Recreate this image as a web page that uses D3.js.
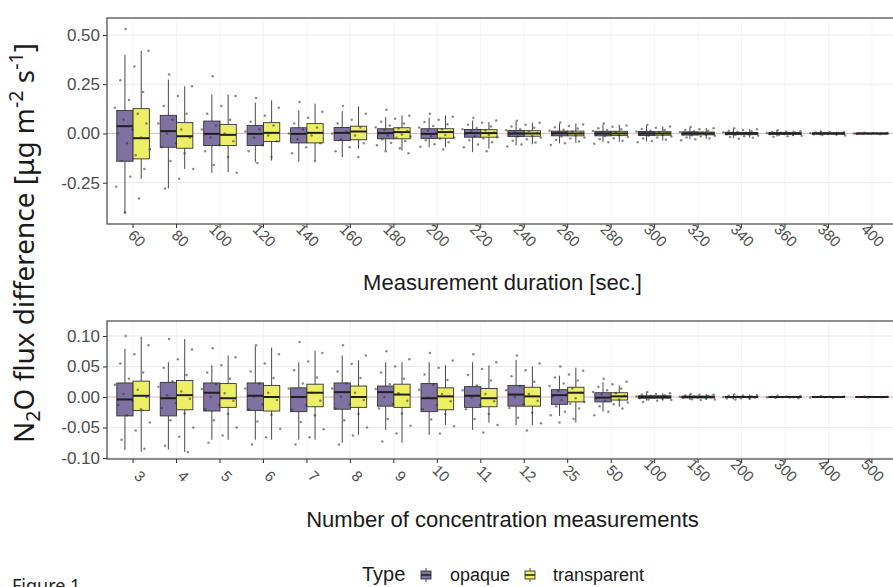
<!DOCTYPE html>
<html>
<head>
<meta charset="utf-8">
<script src="https://cdn.jsdelivr.net/npm/d3@7"></script>
<style>
  body { margin: 0; background: #fff; }
  svg { display: block; font-family: "Liberation Sans", Arial, sans-serif; }
</style>
</head>
<body>
<svg id="chart" width="893" height="587"></svg>
<script>
// ---- data ----
const TYPES = ["opaque", "transparent"];

const DURATIONS = ["60", "80", "100", "120", "140", "160", "180", "200", "220",
  "240", "260", "280", "300", "320", "340", "360", "380", "400"];
const COUNTS = ["3", "4", "5", "6", "7", "8", "9", "10", "11", "12", "25", "50",
  "100", "150", "200", "300", "400", "500"];

const TOP_TICKS = [-0.25, 0, 0.25, 0.5];
const BOTTOM_TICKS = [-0.1, -0.05, 0, 0.05, 0.1];

// [lower whisker, q1, median, q3, upper whisker]
const DUR_OPAQUE = [
  [-0.41, -0.141, 0.037, 0.117, 0.40], [-0.279, -0.07, 0.012, 0.092, 0.274],
  [-0.2, -0.061, -0.002, 0.063, 0.197], [-0.146, -0.061, -0.002, 0.041, 0.157],
  [-0.143, -0.048, -0.002, 0.029, 0.117], [-0.12, -0.036, 0.003, 0.03, 0.114],
  [-0.087, -0.027, 0.002, 0.024, 0.083], [-0.07, -0.025, -0.002, 0.024, 0.08],
  [-0.095, -0.019, 0.002, 0.02, 0.066], [-0.06, -0.015, 0, 0.015, 0.06],
  [-0.05, -0.012, 0.001, 0.012, 0.05], [-0.045, -0.012, 0, 0.011, 0.045],
  [-0.04, -0.01, 0, 0.01, 0.038], [-0.03, -0.008, 0, 0.008, 0.03],
  [-0.025, -0.006, 0, 0.006, 0.024], [-0.015, -0.004, 0, 0.004, 0.015],
  [-0.01, -0.003, 0, 0.003, 0.01], [-0.004, -0.001, 0, 0.001, 0.004]
];
const DUR_TRANSPARENT = [
  [-0.23, -0.129, -0.024, 0.126, 0.42], [-0.18, -0.075, -0.014, 0.055, 0.24],
  [-0.197, -0.061, -0.007, 0.046, 0.197], [-0.138, -0.041, 0.003, 0.055, 0.168],
  [-0.138, -0.048, 0.003, 0.05, 0.152], [-0.077, -0.032, 0.01, 0.037, 0.138],
  [-0.087, -0.027, 0.007, 0.029, 0.092], [-0.07, -0.024, 0.007, 0.024, 0.092],
  [-0.077, -0.019, 0.002, 0.019, 0.058], [-0.055, -0.014, 0, 0.014, 0.055],
  [-0.048, -0.012, 0, 0.012, 0.05], [-0.042, -0.011, 0, 0.011, 0.044],
  [-0.036, -0.009, 0, 0.009, 0.036], [-0.028, -0.007, 0, 0.007, 0.028],
  [-0.022, -0.006, 0, 0.005, 0.022], [-0.014, -0.004, 0, 0.004, 0.014],
  [-0.009, -0.003, 0, 0.003, 0.009], [-0.004, -0.001, 0, 0.001, 0.004]
];
const CNT_OPAQUE = [
  [-0.087, -0.031, -0.004, 0.023, 0.079], [-0.086, -0.031, -0.002, 0.024, 0.057],
  [-0.07, -0.023, 0.007, 0.023, 0.052], [-0.07, -0.022, 0.002, 0.023, 0.083],
  [-0.07, -0.024, 0, 0.015, 0.057], [-0.075, -0.02, 0.008, 0.023, 0.068],
  [-0.054, -0.015, 0.008, 0.018, 0.057], [-0.062, -0.024, -0.002, 0.022, 0.057],
  [-0.054, -0.017, 0.002, 0.017, 0.057], [-0.046, -0.015, 0.004, 0.019, 0.061],
  [-0.031, -0.012, 0.003, 0.012, 0.035], [-0.024, -0.008, -0.001, 0.007, 0.024],
  [-0.006, -0.002, 0, 0.002, 0.006], [-0.005, -0.0015, 0, 0.0015, 0.005],
  [-0.004, -0.001, 0, 0.001, 0.004], [-0.002, -0.0007, 0, 0.0007, 0.002],
  [-0.0015, -0.0005, 0, 0.0005, 0.0015], [-0.001, -0.0004, 0, 0.0004, 0.001]
];
const CNT_TRANSPARENT = [
  [-0.09, -0.022, 0.002, 0.026, 0.099], [-0.09, -0.021, 0.003, 0.027, 0.095],
  [-0.07, -0.017, -0.002, 0.022, 0.068], [-0.07, -0.023, 0, 0.019, 0.081],
  [-0.07, -0.016, 0.007, 0.021, 0.076], [-0.062, -0.017, 0, 0.018, 0.06],
  [-0.075, -0.017, 0.004, 0.021, 0.057], [-0.046, -0.021, 0.001, 0.015, 0.052],
  [-0.042, -0.016, -0.002, 0.014, 0.052], [-0.046, -0.015, 0.001, 0.016, 0.05],
  [-0.042, -0.008, 0.007, 0.016, 0.048], [-0.016, -0.005, 0.001, 0.007, 0.019],
  [-0.006, -0.002, 0, 0.002, 0.006], [-0.005, -0.0015, 0, 0.0015, 0.005],
  [-0.004, -0.001, 0, 0.001, 0.004], [-0.002, -0.0007, 0, 0.0007, 0.002],
  [-0.0015, -0.0005, 0, 0.0005, 0.0015], [-0.001, -0.0004, 0, 0.0004, 0.001]
];

// individual flux differences (grey jittered dots), one list per category
const DUR_POINTS = [
  [0.53, 0.42, 0.34, 0.27, 0.21, 0.17, 0.13, 0.1, 0.07, 0.05, 0.02, 0.0, -0.02, -0.05, -0.08, -0.11, -0.14, -0.18, -0.22, -0.27, -0.33, -0.4],
  [0.3, 0.24, 0.19, 0.14, 0.1, 0.07, 0.05, 0.02, 0.0, -0.02, -0.05, -0.07, -0.1, -0.14, -0.18, -0.23, -0.28],
  [0.29, 0.19, 0.14, 0.1, 0.07, 0.04, 0.02, 0.0, -0.02, -0.04, -0.06, -0.09, -0.12, -0.16, -0.2],
  [0.18, 0.13, 0.09, 0.06, 0.04, 0.02, 0.01, -0.01, -0.02, -0.04, -0.06, -0.09, -0.12, -0.15],
  [0.16, 0.11, 0.08, 0.05, 0.03, 0.02, 0.0, -0.01, -0.03, -0.05, -0.07, -0.1, -0.14],
  [0.14, 0.1, 0.07, 0.05, 0.03, 0.01, 0.0, -0.01, -0.03, -0.05, -0.07, -0.09, -0.12],
  [0.12, 0.09, 0.075, 0.06, 0.05, 0.04, 0.032, 0.025, 0.018, 0.012, 0.006, 0.0, -0.005, -0.01, -0.016, -0.022, -0.03, -0.038, -0.048, -0.06, -0.075, -0.09, -0.1],
  [0.1, 0.085, 0.07, 0.058, 0.047, 0.038, 0.03, 0.022, 0.015, 0.009, 0.003, -0.002, -0.008, -0.014, -0.02, -0.027, -0.035, -0.044, -0.055, -0.068, -0.082],
  [0.08, 0.066, 0.054, 0.044, 0.035, 0.028, 0.021, 0.015, 0.01, 0.005, 0.001, -0.003, -0.008, -0.013, -0.019, -0.026, -0.034, -0.044, -0.056, -0.07, -0.09],
  [0.065, 0.054, 0.044, 0.036, 0.029, 0.022, 0.016, 0.011, 0.006, 0.002, -0.002, -0.006, -0.011, -0.016, -0.022, -0.029, -0.037, -0.046, -0.056, -0.066],
  [0.056, 0.046, 0.038, 0.031, 0.025, 0.019, 0.014, 0.009, 0.005, 0.001, -0.002, -0.006, -0.01, -0.015, -0.02, -0.026, -0.033, -0.041, -0.05, -0.058],
  [0.05, 0.041, 0.034, 0.027, 0.022, 0.017, 0.012, 0.008, 0.004, 0.001, -0.002, -0.005, -0.009, -0.013, -0.018, -0.024, -0.03, -0.037, -0.045, -0.052],
  [0.043, 0.035, 0.029, 0.023, 0.018, 0.014, 0.01, 0.007, 0.004, 0.001, -0.002, -0.005, -0.008, -0.012, -0.016, -0.021, -0.026, -0.032, -0.038, -0.044],
  [0.033, 0.027, 0.022, 0.018, 0.014, 0.011, 0.008, 0.005, 0.003, 0.001, -0.001, -0.004, -0.006, -0.009, -0.012, -0.016, -0.02, -0.025, -0.03, -0.034],
  [0.027, 0.022, 0.018, 0.014, 0.011, 0.008, 0.006, 0.004, 0.002, 0.0, -0.002, -0.004, -0.006, -0.008, -0.011, -0.014, -0.018, -0.022, -0.027],
  [0.016, 0.013, 0.01, 0.008, 0.006, 0.004, 0.003, 0.001, 0.0, -0.001, -0.003, -0.004, -0.006, -0.008, -0.011, -0.014, -0.017],
  [0.01, 0.008, 0.006, 0.005, 0.003, 0.002, 0.001, 0.0, -0.001, -0.002, -0.003, -0.005, -0.006, -0.008, -0.01],
  [0.004, 0.003, 0.002, 0.001, 0.0, 0.0, 0.0, 0.0, -0.001, -0.001, -0.002, -0.003, -0.004]
];
const CNT_POINTS = [
  [0.1, 0.085, 0.07, 0.055, 0.04, 0.03, 0.02, 0.012, 0.005, 0.0, -0.006, -0.013, -0.02, -0.03, -0.042, -0.055, -0.07, -0.085],
  [0.095, 0.078, 0.062, 0.048, 0.036, 0.026, 0.017, 0.009, 0.003, -0.003, -0.01, -0.018, -0.027, -0.038, -0.05, -0.065, -0.08, -0.09],
  [0.08, 0.065, 0.052, 0.04, 0.03, 0.021, 0.013, 0.006, 0.0, -0.006, -0.013, -0.02, -0.028, -0.038, -0.05, -0.063, -0.075],
  [0.085, 0.07, 0.055, 0.042, 0.031, 0.022, 0.014, 0.007, 0.001, -0.005, -0.012, -0.02, -0.029, -0.04, -0.052, -0.066, -0.078],
  [0.09, 0.072, 0.058, 0.044, 0.032, 0.022, 0.014, 0.007, 0.0, -0.006, -0.013, -0.021, -0.03, -0.041, -0.053, -0.066, -0.078],
  [0.085, 0.068, 0.054, 0.042, 0.031, 0.022, 0.014, 0.007, 0.001, -0.005, -0.012, -0.019, -0.028, -0.038, -0.05, -0.063, -0.078],
  [0.075, 0.062, 0.05, 0.04, 0.03, 0.021, 0.013, 0.006, 0.0, -0.006, -0.012, -0.019, -0.027, -0.036, -0.047, -0.06, -0.073],
  [0.072, 0.06, 0.048, 0.037, 0.028, 0.02, 0.012, 0.005, -0.001, -0.007, -0.013, -0.02, -0.028, -0.037, -0.048, -0.06],
  [0.07, 0.057, 0.046, 0.036, 0.027, 0.019, 0.011, 0.005, -0.001, -0.007, -0.013, -0.02, -0.028, -0.036, -0.046, -0.058],
  [0.068, 0.055, 0.044, 0.034, 0.025, 0.018, 0.011, 0.005, 0.0, -0.006, -0.012, -0.018, -0.026, -0.034, -0.043, -0.055],
  [0.05, 0.043, 0.037, 0.032, 0.027, 0.022, 0.018, 0.014, 0.01, 0.007, 0.004, 0.001, -0.002, -0.005, -0.008, -0.011, -0.015, -0.019, -0.024, -0.03, -0.036, -0.042],
  [0.03, 0.025, 0.021, 0.017, 0.014, 0.011, 0.008, 0.006, 0.004, 0.002, 0.0, -0.002, -0.004, -0.006, -0.009, -0.012, -0.015, -0.019, -0.024, -0.03],
  [0.008, 0.006, 0.005, 0.004, 0.003, 0.002, 0.001, 0.0005, 0.0, -0.0005, -0.001, -0.002, -0.003, -0.004, -0.005, -0.006, -0.008],
  [0.005, 0.004, 0.0035, 0.0025, 0.0015, 0.001, 0.0005, 0.0, 0.0, -0.0005, -0.001, -0.0015, -0.0025, -0.0035, -0.004, -0.005],
  [0.004, 0.003, 0.0025, 0.002, 0.001, 0.0005, 0.0, 0.0, -0.0005, -0.001, -0.002, -0.0025, -0.003, -0.004],
  [0.002, 0.0015, 0.001, 0.0005, 0.0, 0.0, -0.0005, -0.001, -0.0015, -0.002],
  [0.0015, 0.001, 0.0005, 0.0, 0.0, -0.0005, -0.001, -0.0015],
  [0.001, 0.0005, 0.0, 0.0, -0.0005, -0.001]
];

// ---- layout ----
const PANEL_LEFT = 107;
const PANEL_RIGHT = 898; // panel runs off the right edge, as in the figure
const TYPE_FILL = { opaque: "#7f72a2", transparent: "#ecef66" };
const INK = "#333333";
const TICK_TEXT = "#4d4d4d";

const svg = d3.select("#chart");

function drawPanel(p) {
  const x = d3.scaleBand()
    .domain(p.cats)
    .range([PANEL_LEFT, PANEL_RIGHT])
    .paddingInner(0)
    .paddingOuter(0.1);
  const dodge = d3.scaleBand()
    .domain(TYPES)
    .range([-0.375 * x.step(), 0.375 * x.step()]);
  const y = d3.scaleLinear().domain(p.domain).range(p.range);
  const mid = (c) => x(c) + x.bandwidth() / 2;
  const bw = dodge.bandwidth();

  svg.append("clipPath").attr("id", "clip-" + p.name)
    .append("rect")
    .attr("x", PANEL_LEFT).attr("y", p.top)
    .attr("width", PANEL_RIGHT - PANEL_LEFT).attr("height", p.bottom - p.top);

  const g = svg.append("g").attr("clip-path", "url(#clip-" + p.name + ")");

  // grid
  g.selectAll(".hgrid").data(p.ticks).join("line")
    .attr("x1", PANEL_LEFT).attr("x2", PANEL_RIGHT)
    .attr("y1", (d) => y(d)).attr("y2", (d) => y(d))
    .attr("stroke", "#e6e6e6").attr("stroke-width", 0.8);
  g.selectAll(".vgrid").data(p.cats).join("line")
    .attr("x1", (d) => mid(d)).attr("x2", (d) => mid(d))
    .attr("y1", p.top).attr("y2", p.bottom)
    .attr("stroke", "#f0f0f0").attr("stroke-width", 0.8);
  // zero reference line
  g.append("line")
    .attr("x1", PANEL_LEFT).attr("x2", PANEL_RIGHT)
    .attr("y1", y(0)).attr("y2", y(0))
    .attr("stroke", "#f2a8a8").attr("stroke-width", 0.8);

  // boxes
  const boxes = p.cats.flatMap((c, i) =>
    TYPES.map((t) => ({ cat: c, type: t, s: p.stats[t][i] })));
  const bg = g.selectAll(".box").data(boxes).join("g")
    .attr("class", "box")
    .attr("transform", (d) =>
      "translate(" + (mid(d.cat) + dodge(d.type) + bw / 2) + ",0)");
  bg.append("line")
    .attr("y1", (d) => y(d.s[0])).attr("y2", (d) => y(d.s[4]))
    .attr("stroke", INK).attr("stroke-width", 0.9);
  bg.append("rect")
    .attr("x", -bw / 2).attr("width", bw)
    .attr("y", (d) => y(d.s[3]))
    .attr("height", (d) => Math.max(0.6, y(d.s[1]) - y(d.s[3])))
    .attr("fill", (d) => TYPE_FILL[d.type])
    .attr("stroke", INK).attr("stroke-width", 0.9);
  bg.append("line")
    .attr("x1", -bw / 2).attr("x2", bw / 2)
    .attr("y1", (d) => y(d.s[2])).attr("y2", (d) => y(d.s[2]))
    .attr("stroke", "#1f1f1f").attr("stroke-width", 2);

  // jittered raw values: spread across the category width in a fixed order
  const pts = p.cats.flatMap((c, i) =>
    p.points[i].map((v, j) => ({ cat: c, v: v, k: (j * 0.618034 + 0.3) % 1 })));
  g.selectAll(".pt").data(pts).join("circle")
    .attr("cx", (d) => mid(d.cat) + (d.k - 0.5) * 0.85 * x.step())
    .attr("cy", (d) => y(d.v))
    .attr("r", 1.25)
    .attr("fill", "#2b2b2b")
    .attr("opacity", 0.55);

  // panel border
  svg.append("rect")
    .attr("x", PANEL_LEFT).attr("y", p.top)
    .attr("width", PANEL_RIGHT - PANEL_LEFT).attr("height", p.bottom - p.top)
    .attr("fill", "none").attr("stroke", "#444").attr("stroke-width", 1.2);

  // y axis
  const ya = svg.append("g")
    .attr("transform", "translate(" + PANEL_LEFT + ",0)")
    .call(d3.axisLeft(y).tickValues(p.ticks)
      .tickFormat((d) => d.toFixed(2)).tickSize(4).tickPadding(3));
  ya.select(".domain").remove();
  ya.selectAll("line").attr("stroke", INK);
  ya.selectAll("text")
    .attr("font-size", 17).attr("fill", TICK_TEXT)
    .attr("font-family", "Liberation Sans, Arial, sans-serif");

  // x axis
  const xa = svg.append("g")
    .attr("transform", "translate(0," + p.bottom + ")")
    .call(d3.axisBottom(x).tickSize(4));
  xa.select(".domain").remove();
  xa.selectAll("line").attr("stroke", INK);
  xa.selectAll("text")
    .attr("x", 0).attr("y", 0).attr("dy", 0)
    .attr("text-anchor", "end")
    .attr("transform", "translate(6,24) rotate(45)")
    .attr("font-size", 15).attr("fill", TICK_TEXT)
    .attr("font-family", "Liberation Sans, Arial, sans-serif");

  svg.append("text")
    .attr("x", (PANEL_LEFT + PANEL_RIGHT) / 2)
    .attr("y", p.titleY)
    .attr("text-anchor", "middle")
    .attr("font-size", 22)
    .attr("fill", "#1a1a1a")
    .text(p.title);
}

drawPanel({
  name: "duration",
  cats: DURATIONS,
  stats: { opaque: DUR_OPAQUE, transparent: DUR_TRANSPARENT },
  points: DUR_POINTS,
  ticks: TOP_TICKS,
  domain: [-0.25, 0.5],
  range: [182.7, 35],
  top: 18,
  bottom: 224,
  title: "Measurement duration [sec.]",
  titleY: 290
});

drawPanel({
  name: "count",
  cats: COUNTS,
  stats: { opaque: CNT_OPAQUE, transparent: CNT_TRANSPARENT },
  points: CNT_POINTS,
  ticks: BOTTOM_TICKS,
  domain: [-0.1, 0.1],
  range: [458, 336],
  top: 321,
  bottom: 459,
  title: "Number of concentration measurements",
  titleY: 527
});

// shared y label
const ylab = svg.append("text")
  .attr("transform", "translate(34,243) rotate(-90)")
  .attr("text-anchor", "middle")
  .attr("font-family", "Noto Sans, sans-serif")
  .attr("font-size", 22)
  .attr("fill", "#1a1a1a");
ylab.append("tspan").text("N");
ylab.append("tspan").attr("font-size", "0.7em").attr("dy", "0.3em").text("2");
ylab.append("tspan").attr("dy", "-0.21em").text("O flux difference [\u03bcg m");
ylab.append("tspan").attr("font-size", "0.7em").attr("dy", "-0.55em").text("-2");
ylab.append("tspan").attr("dy", "0.385em").text(" s");
ylab.append("tspan").attr("font-size", "0.7em").attr("dy", "-0.55em").text("-1");
ylab.append("tspan").attr("dy", "0.385em").text("]");
// stretch to the length it has in the figure
const ylen = ylab.node().getComputedTextLength();
ylab.attr("font-size", 22 * 400 / ylen);

// legend
const legend = svg.append("g");
legend.append("text")
  .attr("x", 362).attr("y", 581)
  .attr("font-size", 20).attr("fill", "#1a1a1a")
  .text("Type");
const LEGEND_KEY_X = { opaque: 426, transparent: 530 };
const LEGEND_TEXT_X = { opaque: 450, transparent: 553 };
TYPES.forEach((t) => {
  const k = legend.append("g").attr("transform", "translate(" + LEGEND_KEY_X[t] + ",575)");
  k.append("line").attr("y1", -7).attr("y2", 7).attr("stroke", INK).attr("stroke-width", 0.9);
  k.append("rect").attr("x", -5).attr("y", -4).attr("width", 10).attr("height", 8)
    .attr("fill", TYPE_FILL[t]).attr("stroke", INK).attr("stroke-width", 0.9);
  k.append("line").attr("x1", -5).attr("x2", 5).attr("stroke", "#1f1f1f").attr("stroke-width", 1.5);
  legend.append("text")
    .attr("x", LEGEND_TEXT_X[t]).attr("y", 581)
    .attr("font-size", 18).attr("fill", "#1a1a1a")
    .text(t);
});

svg.append("text")
  .attr("x", 12).attr("y", 592)
  .attr("font-family", "Noto Sans, sans-serif")
  .attr("font-size", 18).attr("fill", "#222")
  .text("Figure 1");
</script>
</body>
</html>
